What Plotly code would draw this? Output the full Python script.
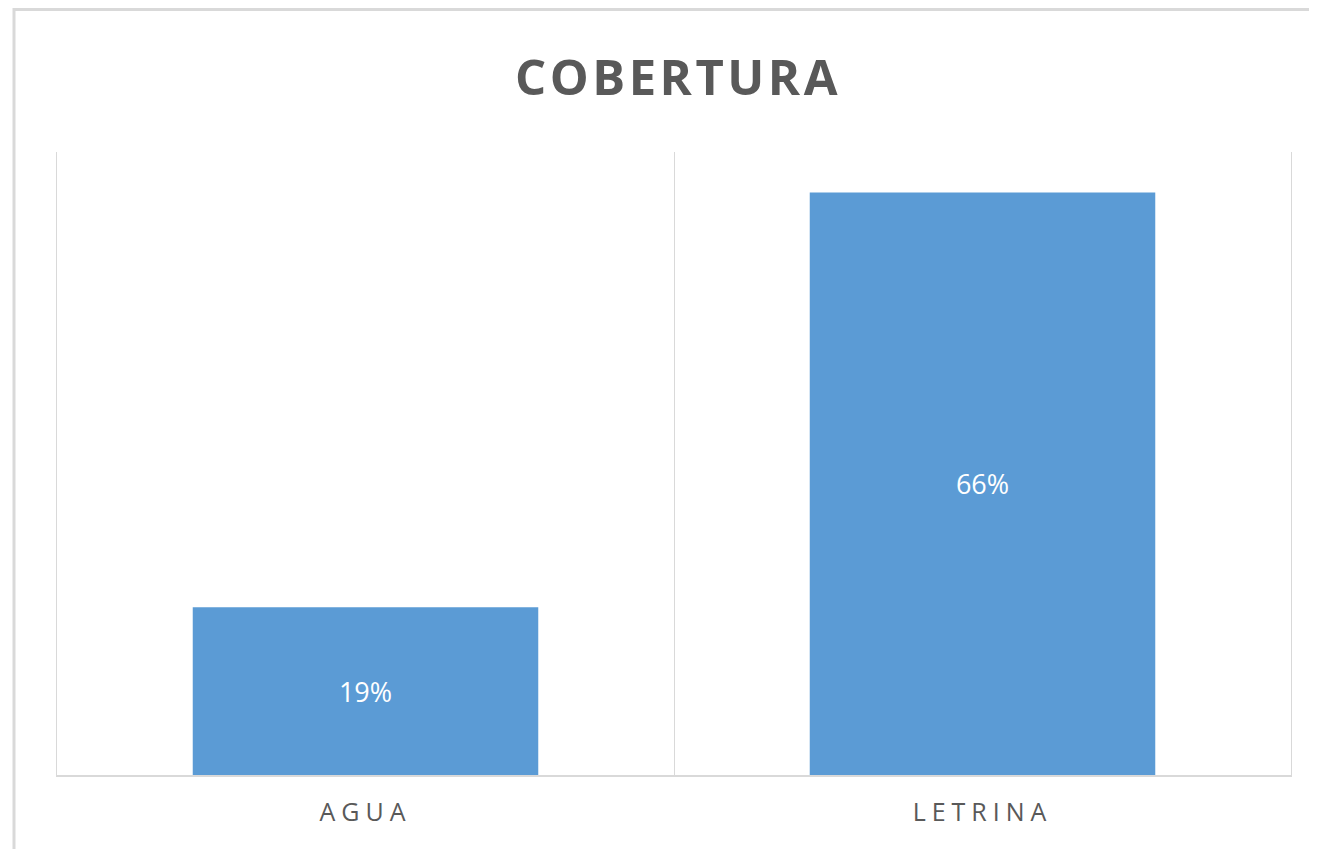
import plotly.graph_objects as go

categories = ["AGUA", "LETRINA"]
values = [0.19, 0.66]
labels = ["19%", "66%"]
title_text = "COBERTURA"

# page body has an 8px margin; figure placed at (8, 8)
OFF = 8
W, H = 1317 - OFF, 849 - OFF
px_left, px_right, px_top, px_bottom = 57, 1291, 152, 775  # plot area in window px
L = px_left - OFF
T = px_top - OFF
R = (OFF + W) - px_right
B = (OFF + H) - px_bottom
pw, ph = W - L - R, H - T - B


def px_x(x):
    return (x - px_left) / pw


def px_y(y):
    return (px_bottom - y) / ph


fig = go.Figure(
    go.Bar(
        x=categories,
        y=values,
        text=labels,
        textposition="inside",
        insidetextanchor="middle",
        textangle=0,
        textfont=dict(family="Open Sans", size=27, color="white"),
        marker=dict(color="#5b9bd5", line=dict(width=0)),
        width=0.56,
        hoverinfo="skip",
    )
)

# chart-area border (Excel style), extends beyond window right/bottom
fig.add_shape(
    type="rect", xref="paper", yref="paper",
    x0=px_x(14), x1=px_x(1340),
    y0=px_y(870), y1=px_y(9.5),
    line=dict(color="#d9d9d9", width=3), fillcolor="rgba(0,0,0,0)", layer="below",
)

fig.update_layout(
    width=W, height=H,
    margin=dict(l=L, r=R, t=T, b=B, autoexpand=False),
    paper_bgcolor="white", plot_bgcolor="white",
    showlegend=False,
    title=dict(
        text=f'<span style="letter-spacing:3.5px">{title_text}</span>',
        x=px_x(678), xref="paper", xanchor="center",
        y=1 - (78 - OFF) / H, yref="container", yanchor="middle",
        font=dict(family="Open Sans", size=49, color="#595959", weight="bold"),
    ),
    xaxis=dict(
        tickson="boundaries",
        tickmode="array",
        tickvals=categories,
        ticktext=[f'<span style="letter-spacing:6px">{c}</span>' for c in categories],
        showgrid=True, gridcolor="#d9d9d9", gridwidth=1,
        showline=True, linecolor="#d9d9d9", linewidth=1.5,
        ticks="", ticklen=0,
        ticklabelstandoff=14,
        tickfont=dict(family="Open Sans", size=25, color="#595959"),
        range=[-0.5, 1.5],
        fixedrange=True,
    ),
    yaxis=dict(
        range=[0, 0.706],
        showgrid=False, showticklabels=False, zeroline=False,
        showline=True, mirror=True, linecolor="#d9d9d9", linewidth=1,
        ticks="",
        fixedrange=True,
    ),
)

fig.write_html("out.html")
